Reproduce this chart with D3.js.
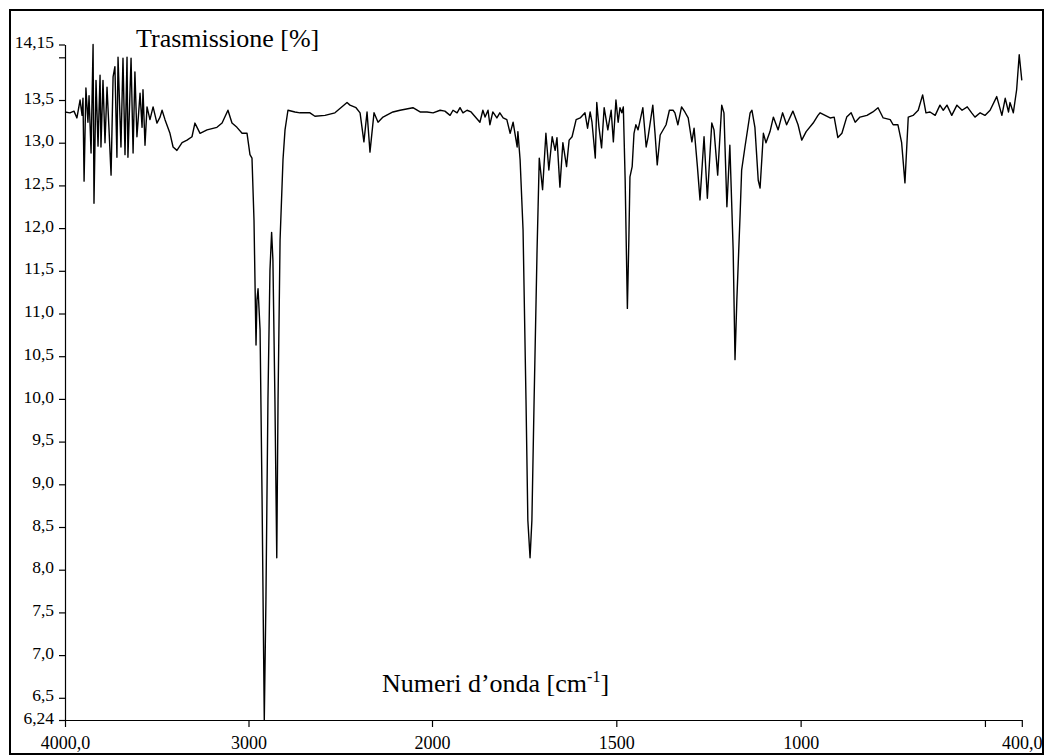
<!DOCTYPE html>
<html lang="it">
<head>
  <meta charset="UTF-8">
  <title>Spettro IR - Trasmissione</title>
  <script src="https://d3js.org/d3.v7.min.js"></script>
  <style>
    body, html {
      margin: 0;
      padding: 0;
      background: #fff;
      overflow: hidden;
    }
    svg {
      display: block;
      font-family: "Liberation Serif", "Times New Roman", serif;
    }
    .axis path, .axis line {
      stroke: #000;
      stroke-width: 1.2px;
    }
  </style>
</head>
<body>
  <svg width="1045" height="756"></svg>
  <script>
    // spectrum: wavenumber [cm-1] and transmission [%]
    const wavenumber = [
      4000, 3973, 3951, 3935, 3918, 3907, 3902, 3896, 3886, 3875, 3869, 3858, 3847, 3842, 3831, 3820,
      3809, 3804, 3793, 3782, 3771, 3760, 3749, 3738, 3728, 3717, 3711, 3695, 3684, 3673, 3662, 3657,
      3640, 3629, 3619, 3608, 3591, 3580, 3575, 3564, 3553, 3537, 3520, 3499, 3482, 3471, 3455, 3428,
      3411, 3390, 3362, 3335, 3308, 3292, 3264, 3226, 3172, 3144, 3112, 3090, 3063, 3035, 3008, 2992,
      2981, 2970, 2959, 2954, 2948, 2937, 2926, 2914, 2905, 2894, 2883, 2874, 2867, 2856, 2846, 2839,
      2828, 2812, 2801, 2785, 2747, 2719, 2665, 2638, 2583, 2529, 2463, 2447, 2414, 2392, 2371, 2354,
      2338, 2316, 2294, 2267, 2213, 2174, 2104, 2065, 2027, 1997, 1978, 1965, 1951, 1943, 1932, 1924,
      1916, 1905, 1894, 1870, 1862, 1856, 1848, 1843, 1835, 1824, 1816, 1807, 1797, 1788, 1780, 1769,
      1767, 1761, 1753, 1745, 1740, 1734, 1729, 1723, 1715, 1709, 1700, 1691, 1683, 1674, 1666, 1661,
      1653, 1645, 1635, 1628, 1620, 1609, 1598, 1585, 1578, 1571, 1566, 1557, 1553, 1547, 1540, 1533,
      1523, 1514, 1508, 1501, 1495, 1490, 1485, 1481, 1476, 1470, 1466, 1463, 1457, 1452, 1447, 1441,
      1428, 1419, 1414, 1401, 1395, 1389, 1381, 1365, 1356, 1346, 1341, 1333, 1323, 1314, 1305, 1295,
      1289, 1280, 1273, 1262, 1253, 1241, 1235, 1225, 1214, 1208, 1200, 1192, 1183, 1178, 1173, 1164,
      1160, 1151, 1137, 1132, 1124, 1115, 1110, 1101, 1094, 1083, 1074, 1061, 1049, 1038, 1021, 1007,
      997, 985, 966, 953, 947, 920, 909, 899, 888, 875, 863, 852, 839, 820, 804, 790,
      776, 757, 749, 736, 726, 717, 708, 695, 681, 669, 660, 649, 635, 622, 613, 603,
      590, 576, 562, 548, 536, 527, 513, 500, 486, 468, 454, 445, 436, 432, 423, 414,
      407, 400
    ];
    const transmission = [
      13.36, 13.35, 13.37, 13.29, 13.50, 13.32, 13.52, 12.55, 13.64, 13.24, 13.55, 12.88, 14.15, 12.29, 13.73, 12.96,
      13.79, 12.95, 13.73, 13.00, 13.65, 13.15, 12.62, 13.77, 13.89, 12.83, 14.00, 12.95, 13.99, 12.86, 14.00, 12.83,
      13.99, 12.88, 13.83, 13.07, 13.58, 13.18, 13.62, 12.97, 13.42, 13.27, 13.42, 13.23, 13.30, 13.38, 13.27, 13.11,
      12.95, 12.91, 13.00, 13.03, 13.07, 13.23, 13.11, 13.15, 13.18, 13.23, 13.38, 13.23, 13.18, 13.11, 13.11, 12.86,
      12.82, 12.09, 10.63, 11.16, 11.29, 10.81, 8.82, 6.24, 7.65, 9.99, 11.51, 11.95, 11.63, 9.99, 8.14, 9.99,
      11.86, 12.80, 13.15, 13.38, 13.36, 13.35, 13.35, 13.31, 13.32, 13.35, 13.47, 13.44, 13.41, 13.35, 13.01, 13.36,
      12.89, 13.35, 13.24, 13.30, 13.36, 13.38, 13.41, 13.36, 13.36, 13.35, 13.38, 13.37, 13.32, 13.38, 13.35, 13.41,
      13.35, 13.38, 13.36, 13.24, 13.38, 13.30, 13.38, 13.21, 13.36, 13.29, 13.35, 13.29, 13.27, 13.11, 13.24, 12.95,
      13.13, 12.80, 11.98, 9.99, 8.58, 8.14, 8.58, 9.99, 11.74, 12.82, 12.45, 13.11, 12.68, 13.07, 12.91, 13.06,
      12.48, 13.00, 12.72, 13.03, 13.07, 13.27, 13.29, 13.35, 13.17, 13.36, 13.24, 12.82, 13.47, 13.18, 12.94, 13.41,
      13.15, 13.38, 13.01, 13.50, 13.24, 13.41, 13.35, 13.42, 12.56, 11.06, 11.86, 12.60, 12.72, 13.11, 13.21, 13.15,
      13.41, 12.95, 13.06, 13.44, 13.11, 12.74, 13.09, 13.21, 13.38, 13.38, 13.35, 13.21, 13.42, 13.36, 13.29, 13.01,
      13.17, 12.72, 12.33, 13.07, 12.35, 13.23, 13.15, 12.62, 13.44, 13.35, 12.25, 12.97, 11.74, 10.46, 11.16, 12.18,
      12.68, 12.95, 13.35, 13.38, 13.18, 12.56, 12.47, 13.11, 13.00, 13.13, 13.30, 13.15, 13.35, 13.21, 13.37, 13.21,
      13.03, 13.13, 13.23, 13.32, 13.35, 13.29, 13.30, 13.06, 13.11, 13.30, 13.35, 13.24, 13.30, 13.32, 13.36, 13.41,
      13.29, 13.27, 13.21, 13.21, 13.00, 12.53, 13.30, 13.32, 13.38, 13.56, 13.35, 13.36, 13.32, 13.44, 13.38, 13.44,
      13.32, 13.44, 13.38, 13.42, 13.35, 13.30, 13.35, 13.32, 13.38, 13.54, 13.32, 13.52, 13.36, 13.47, 13.35, 13.62,
      14.03, 13.73
    ];

    // axis ticks
    const xTicks = [4000, 3000, 2000, 1500, 1000, 500, 400];
    const xTickLabels = ['4000,0', '3000', '2000', '1500', '1000', '', '400,0'];
    const yTicks = [6.24, 6.5, 7.0, 7.5, 8.0, 8.5, 9.0, 9.5, 10.0, 10.5, 11.0, 11.5, 12.0, 12.5, 13.0, 13.5, 14.0, 14.15];
    const yTickLabels = ['6,24', '6,5', '7,0', '7,5', '8,0', '8,5', '9,0', '9,5', '10,0', '10,5', '11,0', '11,5',
      '12,0', '12,5', '13,0', '13,5', '', '14,15'];

    const serif = '"Liberation Serif", "Times New Roman", serif';
    const svg = d3.select('svg');

    // outer frame
    svg.append('rect')
      .attr('x', 10)
      .attr('y', 10)
      .attr('width', 1033)
      .attr('height', 744)
      .attr('fill', 'none')
      .attr('stroke', '#000')
      .attr('stroke-width', 2);

    // the x axis is compressed by half above 2000 cm-1
    const x = d3.scaleLinear()
      .domain([4000, 2000, 400])
      .range([65, 432, 1021.8]);

    const y = d3.scaleLinear()
      .domain([6.24, 14.15])
      .range([720, 44.5]);

    const data = wavenumber.map((w, i) => ({ w: w, t: transmission[i] }));

    // axes
    const xAxis = d3.axisBottom(x)
      .tickValues(xTicks)
      .tickSize(7)
      .tickSizeOuter(0)
      .tickFormat((d, i) => xTickLabels[i]);

    const gx = svg.append('g')
      .attr('class', 'axis')
      .attr('transform', 'translate(0,720)')
      .call(xAxis)
      .attr('font-family', serif);
    gx.selectAll('text')
      .attr('y', 29)
      .attr('dy', 0)
      .attr('fill', '#000')
      .style('font-family', serif)
      .style('font-size', '18px');

    const yAxis = d3.axisLeft(y)
      .tickValues(yTicks)
      .tickSize(6)
      .tickSizeOuter(0)
      .tickPadding(5)
      .tickFormat((d, i) => yTickLabels[i]);

    const gy = svg.append('g')
      .attr('class', 'axis')
      .attr('transform', 'translate(65,0)')
      .call(yAxis)
      .attr('font-family', serif);
    gy.selectAll('text')
      .attr('dy', '0.18em')
      .attr('fill', '#000')
      .style('font-family', serif)
      .style('font-size', '17.5px');

    // spectrum
    const line = d3.line()
      .x((d) => x(d.w))
      .y((d) => y(d.t));

    svg.append('path')
      .datum(data)
      .attr('d', line)
      .attr('fill', 'none')
      .attr('stroke', '#000')
      .attr('stroke-width', 1.4)
      .attr('stroke-linejoin', 'round');

    // axis titles
    svg.append('text')
      .attr('x', 136)
      .attr('y', 47)
      .style('font-size', '26px')
      .text('Trasmissione [%]');

    const xt = svg.append('text')
      .attr('x', 382)
      .attr('y', 692)
      .style('font-size', '26px');
    xt.append('tspan').text('Numeri d’onda [cm');
    xt.append('tspan')
      .attr('dy', -10)
      .style('font-size', '16px')
      .text('-1');
    xt.append('tspan')
      .attr('dy', 10)
      .text(']');
  </script>
</body>
</html>
